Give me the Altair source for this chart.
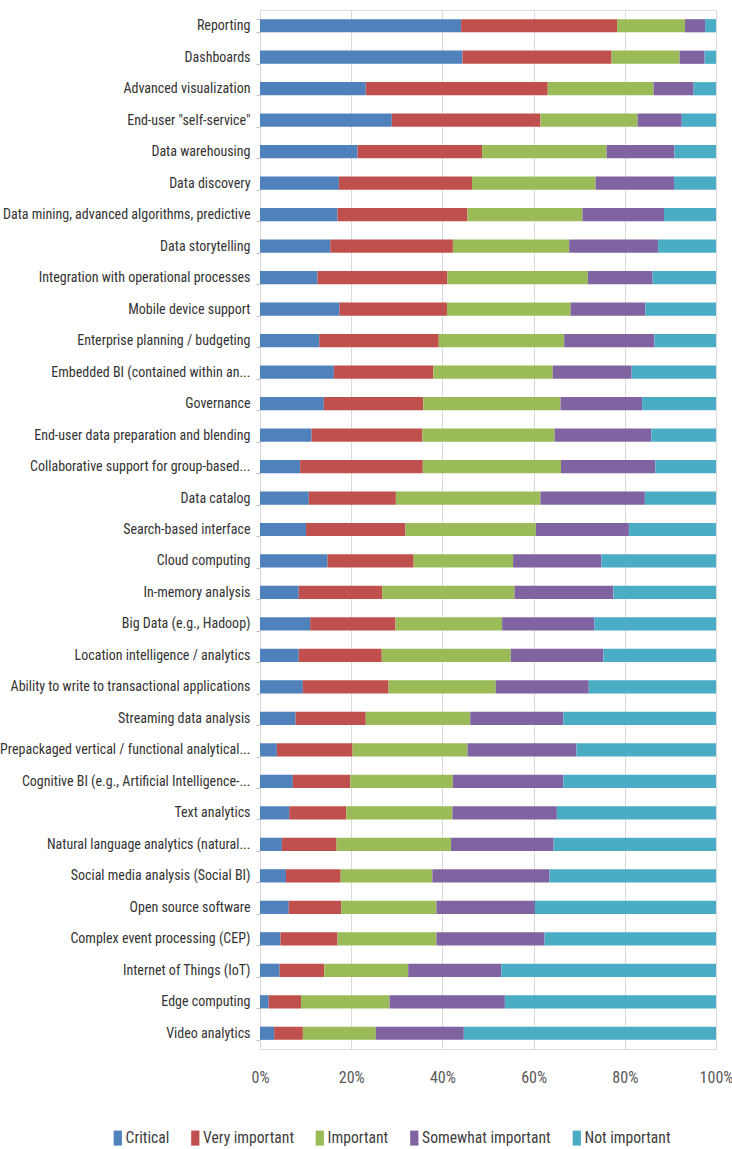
import altair as alt
import pandas as pd

categories = [
    "Reporting", "Dashboards", "Advanced visualization", 'End-user "self-service"',
    "Data warehousing", "Data discovery", "Data mining, advanced algorithms, predictive",
    "Data storytelling", "Integration with operational processes", "Mobile device support",
    "Enterprise planning / budgeting", "Embedded BI (contained within an...",
    "Governance", "End-user data preparation and blending",
    "Collaborative support for group-based...", "Data catalog", "Search-based interface",
    "Cloud computing", "In-memory analysis", "Big Data (e.g., Hadoop)",
    "Location intelligence / analytics", "Ability to write to transactional applications",
    "Streaming data analysis", "Prepackaged vertical / functional analytical...",
    "Cognitive BI (e.g., Artificial Intelligence-...", "Text analytics",
    "Natural language analytics (natural...", "Social media analysis (Social BI)",
    "Open source software", "Complex event processing (CEP)", "Internet of Things (IoT)",
    "Edge computing", "Video analytics",
]

critical = [44.1, 44.4, 23.2, 28.9, 21.4, 17.3, 17.0, 15.4, 12.6, 17.4, 13.0, 16.2, 14.0,
            11.3, 8.8, 10.7, 10.1, 14.8, 8.5, 11.0, 8.5, 9.4, 7.8, 3.7, 7.2, 6.4, 4.8,
            5.7, 6.3, 4.5, 4.3, 1.9, 3.1]
very_important = [34.2, 32.7, 39.9, 32.6, 27.3, 29.2, 28.5, 26.9, 28.5, 23.6, 26.2, 21.8,
                  21.8, 24.3, 26.9, 19.1, 21.8, 18.9, 18.3, 18.7, 18.2, 18.8, 15.4, 16.6,
                  12.6, 12.5, 12.0, 12.0, 11.5, 12.5, 9.8, 7.1, 6.3]
important = [14.9, 14.9, 23.2, 21.3, 27.3, 27.1, 25.2, 25.5, 30.8, 27.1, 27.5, 26.2, 30.1,
             29.0, 30.3, 31.7, 28.6, 21.8, 29.0, 23.4, 28.3, 23.5, 22.9, 25.2, 22.5, 23.3,
             25.1, 20.1, 20.9, 21.7, 18.4, 19.4, 16.0]
somewhat_important = [4.4, 5.5, 8.8, 9.7, 14.9, 17.2, 17.9, 19.5, 14.2, 16.4, 19.8, 17.3,
                      17.9, 21.2, 20.7, 22.9, 20.4, 19.4, 21.7, 20.2, 20.3, 20.4, 20.4,
                      23.9, 24.2, 22.9, 22.5, 25.7, 21.6, 23.7, 20.4, 25.3, 19.3]
not_important = [2.4, 2.5, 4.9, 7.5, 9.1, 9.2, 11.4, 12.7, 13.9, 15.5, 13.5, 18.5, 16.2,
                 14.2, 13.3, 15.6, 19.1, 25.1, 22.5, 26.7, 24.7, 27.9, 33.5, 30.6, 33.5,
                 34.9, 35.6, 36.5, 39.7, 37.6, 47.1, 46.3, 55.3]

levels = ["Critical", "Very important", "Important", "Somewhat important", "Not important"]
colors = ["#4F81BD", "#C0504D", "#9BBB59", "#8064A2", "#4BACC6"]
series = [critical, very_important, important, somewhat_important, not_important]

rows = []
for li, (lvl, vals) in enumerate(zip(levels, series)):
    for cat, v in zip(categories, vals):
        rows.append({"category": cat, "level": lvl, "value": v, "order": li})
df = pd.DataFrame(rows)

label_font = "Roboto Condensed"

chart = alt.Chart(df).mark_bar().encode(
    y=alt.Y("category:N", sort=categories, title=None,
            scale=alt.Scale(paddingInner=0.58, paddingOuter=0.29),
            axis=alt.Axis(labelFont=label_font, labelFontSize=14, labelColor="#333333",
                          labelPadding=6, domainColor="#D9D9D9", tickColor="#BFBFBF",
                          tickSize=4, tickBand="extent", labelLimit=300)),
    x=alt.X("value:Q", stack="normalize", title=None,
            scale=alt.Scale(domain=[0, 1], nice=False),
            axis=alt.Axis(format="%", values=[0, 0.2, 0.4, 0.6, 0.8, 1.0],
                          labelFont=label_font, labelFontSize=16, labelColor="#595959",
                          labelPadding=20, domain=False, ticks=False,
                          gridColor="#D9D9D9", labelFlush=False)),
    color=alt.Color("level:N", sort=levels,
                    scale=alt.Scale(domain=levels, range=colors),
                    legend=alt.Legend(title=None, orient="none", direction="horizontal",
                                      legendX=-150, legendY=1120,
                                      labelFont=label_font, labelFontSize=15.6,
                                      labelColor="#404040",
                                      symbolType="M-0.55,-1L0.55,-1L0.55,1L-0.55,1Z",
                                      symbolSize=225, symbolStrokeWidth=0,
                                      columnPadding=17.5, labelOffset=0)),
    order=alt.Order("order:Q", sort="ascending"),
).properties(
    width=456, height=1039,
    autosize=alt.AutoSizeParams(type="none"),
    padding={"left": 260, "top": 10, "right": 16, "bottom": 100},
).configure_view(stroke=None).configure(background="white")

chart.save("out.html", embed_options={"renderer": "svg", "actions": False})
